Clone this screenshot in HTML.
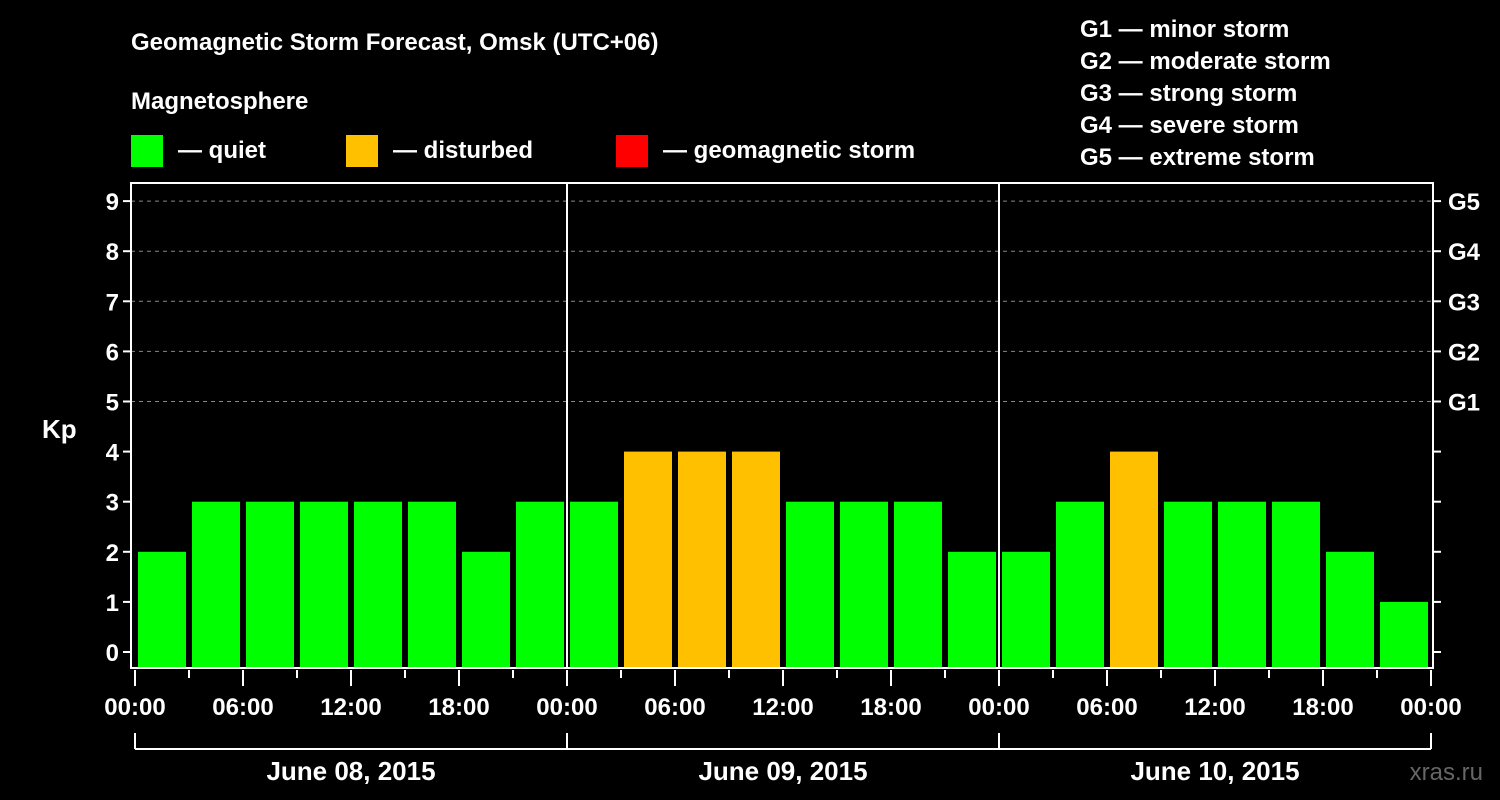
<!DOCTYPE html>
<html><head><meta charset="utf-8">
<style>
html,body{margin:0;padding:0;background:#000;}
svg{display:block;font-family:"Liberation Sans",Arial,sans-serif;font-weight:bold;}
</style></head>
<body>
<svg id="chart" width="1500" height="800" viewBox="0 0 1500 800">
<rect x="0" y="0" width="1500" height="800" fill="#000"/>
<text x="131" y="50" fill="#fff" font-size="24">Geomagnetic Storm Forecast, Omsk (UTC+06)</text>
<text x="131" y="109" fill="#fff" font-size="24">Magnetosphere</text>
<rect x="131" y="135" width="32" height="32" fill="#00ff00"/>
<text x="178" y="158" fill="#fff" font-size="24">— quiet</text>
<rect x="346" y="135" width="32" height="32" fill="#ffc000"/>
<text x="393" y="158" fill="#fff" font-size="24">— disturbed</text>
<rect x="616" y="135" width="32" height="32" fill="#ff0000"/>
<text x="663" y="158" fill="#fff" font-size="24">— geomagnetic storm</text>
<g fill="#fff" font-size="24">
<text x="1080" y="37">G1 — minor storm</text>
<text x="1080" y="69">G2 — moderate storm</text>
<text x="1080" y="101">G3 — strong storm</text>
<text x="1080" y="133">G4 — severe storm</text>
<text x="1080" y="165">G5 — extreme storm</text>
</g>
<text x="42" y="438" fill="#fff" font-size="26">Kp</text>
<text x="1483" y="780" fill="#666" font-size="24" text-anchor="end" font-weight="normal">xras.ru</text>
<g id="plot"></g>
</svg>
<script>
const kpValues = [2,3,3,3,3,3,2,3, 3,4,4,4,3,3,3,2, 2,3,4,3,3,3,2,1];
const timeLabels = ["00:00","06:00","12:00","18:00","00:00","06:00","12:00","18:00","00:00","06:00","12:00","18:00","00:00"];
const dayLabels = ["June 08, 2015","June 09, 2015","June 10, 2015"];
const yTicks = [0,1,2,3,4,5,6,7,8,9];
const gLabels = ["G1","G2","G3","G4","G5"];

const NS="http://www.w3.org/2000/svg";
const plot=document.getElementById('plot');
const L=131,R=1433,T=183,B=668,X0=135,X1=1431;
const nBars=kpValues.length;
const slot=(X1-X0)/nBars;
function xs(i){return X0+i*slot;}
function ys(v){return 652-v*50.1;}
function mk(tag,attrs){const e=document.createElementNS(NS,tag);for(const k in attrs)e.setAttribute(k,attrs[k]);plot.appendChild(e);return e;}
function color(v){return v>=5?'#ff0000':(v>=4?'#ffc000':'#00ff00');}

// gridlines
yTicks.forEach(v=>{
  if(v>=5){const g=mk('line',{x1:L,x2:R,y1:ys(v),y2:ys(v),stroke:'#888','stroke-dasharray':'4,4','stroke-width':1});
  
  }
  const t=mk('line',{x1:L-8,x2:L,y1:ys(v),y2:ys(v),stroke:'#fff','stroke-width':2});
  
  
  const t2=mk('line',{x1:R,x2:R+8,y1:ys(v),y2:ys(v),stroke:'#fff','stroke-width':2});
  
  
  const lb=mk('text',{x:L-12,y:ys(v)+9,fill:'#fff','font-size':24,'text-anchor':'end'});
  lb.textContent=v;
  
  
});
gLabels.forEach((g,i)=>{
  const lb=mk('text',{x:R+15,y:ys(5+i)+9,fill:'#fff','font-size':24});
  lb.textContent=g;
  
  
});
// bars
kpValues.forEach((v,i)=>{
  const y=ys(v);
  const b=mk('rect',{x:xs(i)+3,y:y,width:slot-6,height:B-y,fill:color(v)});
  
  
});
// day separators
for(let d=1;d<dayLabels.length;d++){
  const x=xs(d*8);
  const l=mk('line',{x1:x,x2:x,y1:T,y2:B,stroke:'#fff','stroke-width':2});
  
  
}
// frame
const fr=mk('rect',{x:L,y:T,width:R-L,height:B-T,fill:'none',stroke:'#fff','stroke-width':2});


// x ticks
for(let i=0;i<=nBars;i++){
  const x=xs(i);
  const long=i%2===0;
  const t=mk('line',{x1:x,x2:x,y1:B+2,y2:long?B+18:B+10,stroke:'#fff','stroke-width':2});
  
  
}
timeLabels.forEach((s,i)=>{
  const lb=mk('text',{x:xs(i*2),y:715,fill:'#fff','font-size':24,'text-anchor':'middle'});
  lb.textContent=s;
  
  
});
// day brackets
const br=mk('line',{x1:X0,x2:X1,y1:749,y2:749,stroke:'#fff','stroke-width':2});


for(let d=0;d<=dayLabels.length;d++){
  const x=xs(d*8);
  const l=mk('line',{x1:x,x2:x,y1:733,y2:749,stroke:'#fff','stroke-width':2});
  
  
}
dayLabels.forEach((s,d)=>{
  const lb=mk('text',{x:(xs(d*8)+xs(d*8+8))/2,y:780,fill:'#fff','font-size':26,'text-anchor':'middle'});
  lb.textContent=s;
  
  
});
</script>
</body></html>
